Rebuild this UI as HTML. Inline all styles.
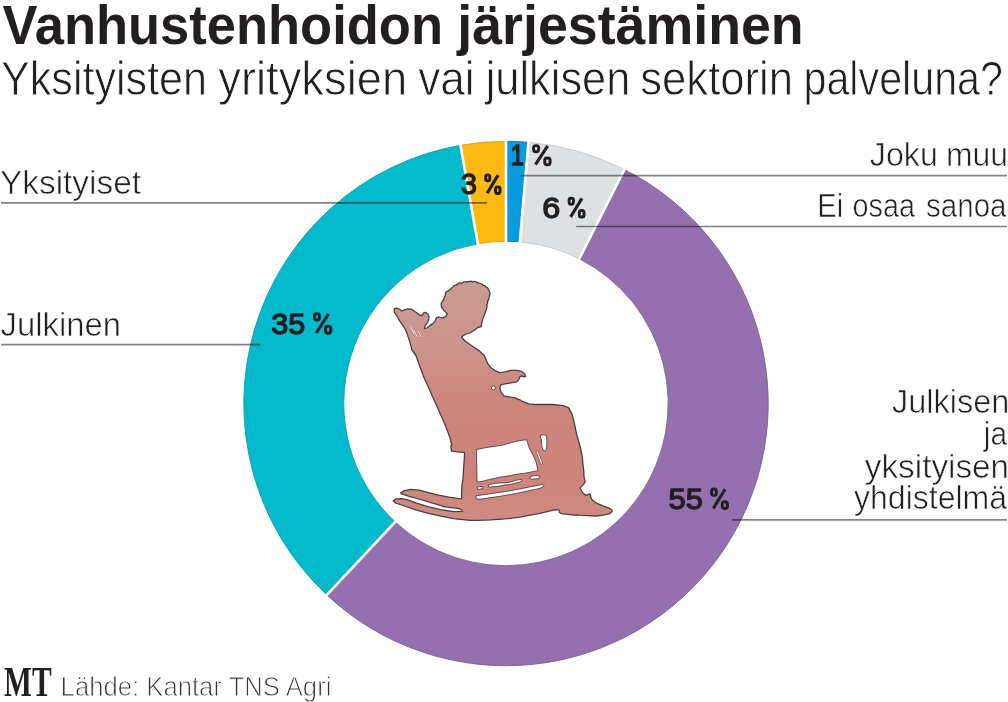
<!DOCTYPE html>
<html><head><meta charset="utf-8"><style>
html,body{margin:0;padding:0;background:#fff;}
body{width:1008px;height:702px;overflow:hidden;position:relative;}
svg{position:absolute;left:0;top:0;}
text{font-family:"Liberation Sans",sans-serif;}
.b{font-weight:bold;}
.d{font-weight:normal;stroke:#231f20;stroke-width:1.3px;}
.s{font-family:"Liberation Serif",serif;font-weight:bold;}
</style></head><body>
<svg width="1008" height="702" viewBox="0 0 1008 702">
<defs>
<linearGradient id="fg" gradientUnits="userSpaceOnUse" x1="0" y1="282" x2="0" y2="520">
<stop offset="0" stop-color="#cc9b93"/><stop offset="0.25" stop-color="#cc958c"/><stop offset="0.5" stop-color="#cd867c"/><stop offset="0.8" stop-color="#cd837a"/><stop offset="1" stop-color="#cf8b84"/>
</linearGradient>
</defs>
<g><path d="M506.00 141.30A262.2 262.2 0 0 1 528.40 142.26L519.85 241.89A162.2 162.2 0 0 0 506.00 241.30Z" fill="#069ade" stroke="#0a7fb5" stroke-width="0.9"/><path d="M528.40 142.26A262.2 262.2 0 0 1 624.42 169.57L579.26 258.79A162.2 162.2 0 0 0 519.85 241.89Z" fill="#dee1e3" stroke="#c4c7ca" stroke-width="0.9"/><path d="M624.42 169.57A262.2 262.2 0 1 1 326.85 594.95L395.17 521.93A162.2 162.2 0 1 0 579.26 258.79Z" fill="#9570b0" stroke="#7a5b90" stroke-width="0.9"/><path d="M326.85 594.95A262.2 262.2 0 0 1 460.47 145.28L477.83 243.76A162.2 162.2 0 0 0 395.17 521.93Z" fill="#02bacc" stroke="#0aa0b0" stroke-width="0.9"/><path d="M460.47 145.28A262.2 262.2 0 0 1 506.00 141.30L506.00 241.30A162.2 162.2 0 0 0 477.83 243.76Z" fill="#fcba13" stroke="#d9a012" stroke-width="0.9"/></g>
<g stroke="#fff" stroke-width="2.6"><line x1="506.00" y1="244.30" x2="506.00" y2="138.30"/><line x1="519.60" y1="244.88" x2="528.65" y2="139.27"/><line x1="577.90" y1="261.46" x2="625.78" y2="166.89"/><line x1="397.22" y1="519.74" x2="324.80" y2="597.14"/><line x1="478.36" y1="246.72" x2="459.95" y2="142.33"/></g>
<path fill="url(#fg)" stroke="#4a4040" stroke-width="1.3" stroke-linejoin="round" d="
M394.1 308.8 L396.2 308.2 L398.9 308.8 L401.6 310.9 L404.4 309.9 L407.8 308.8 L411.9 309.5 L416.0 312.3 L419.4 315.0 L422.1 315.7 L423.5 312.9 L425.5 312.3 L427.9 314.0 L429.0 317.0 L428.6 320.5 L426.9 323.2 L424.9 325.9 L424.5 328.7 L426.9 328.0 L429.6 325.9 L432.4 323.9 L435.1 321.1 L436.5 317.7 L439.2 317.0 L442.4 318.2 L446.0 316.4 L447.3 313.8 L445.1 311.6 L443.6 310.2 L442.9 308.9 L441.5 307.0 L441.5 305.4 Q440.52 303.47 442.0 301.9 Q442.15 300.83 443.2 300.6 Q443.21 299.55 444.2 299.2 Q443.63 297.00 445.5 295.7 Q444.92 294.76 445.6 293.9 Q445.37 292.72 446.4 292.1 Q447.04 290.98 448.3 291.2 Q448.44 290.13 449.5 289.9 Q450.00 288.81 451.2 288.9 Q451.34 287.61 452.6 287.3 Q453.40 285.14 455.7 285.1 Q456.37 284.26 457.4 284.6 Q457.70 283.12 459.2 282.9 Q460.28 282.52 461.0 283.4 Q461.68 282.56 462.7 282.9 Q463.73 281.50 465.4 282.0 Q466.56 281.41 467.5 282.3 Q468.37 281.09 469.8 281.5 Q471.36 280.86 472.5 282.1 Q473.66 280.99 475.1 281.7 Q476.44 281.59 477.0 282.8 Q477.98 282.49 478.6 283.3 Q480.01 282.76 481.0 283.9 Q482.61 283.96 483.1 285.5 Q485.06 285.10 486.1 286.8 Q488.19 287.34 488.4 289.5 Q489.56 290.10 489.4 291.4 Q490.28 292.34 489.7 293.5 Q490.30 294.57 489.5 295.5 Q489.81 296.69 488.8 297.4 Q489.37 299.64 487.5 301.0 Q488.28 303.06 486.6 304.5 Q487.52 305.50 486.9 306.7 L486.6 308.9 L485.3 312.5 L483.9 316.0 L482.6 319.5 L481.7 323.1 L481.3 326.6 L477.8 327.5 L475.1 329.7 L473.0 331.0 L470.0 333.0 L465.0 334.5 L461.5 337.0 L465.0 341.0 L470.0 344.5 L475.0 348.0 L480.0 351.4 L483.9 354.9 L485.9 358.9 L487.9 363.9 L490.9 367.4 L494.9 370.4 L499.9 372.9 L504.9 371.9 L510.9 370.4 L516.8 370.4 L521.8 371.4 L524.8 373.9 L525.8 376.4 L523.8 376.9 L521.8 375.9 L519.8 376.9 L518.8 379.9 L516.8 381.9 L510.9 382.9 L504.9 383.9 L500.9 384.9 L499.9 387.9 L500.9 391.8 L503.9 395.8 L508.9 396.8 L514.9 397.8 L519.8 399.8 L523.1 401.7 L528.8 403.9 L535.6 404.5 L552.7 404.5 L563.0 405.7 L568.7 407.9 L572.1 414.2 L574.4 423.3 L576.7 434.7 L580.1 446.1 L582.4 457.5 L582.8 463.0 L583.7 470.0 L584.0 476.3 L585.2 481.9 L582.9 485.1 L580.1 487.9 L581.3 490.6 L583.7 493.8 L586.0 495.4 L587.6 494.6 L590.0 493.8 L590.8 497.0 L592.4 500.2 L597.1 503.3 L603.5 506.1 L609.0 508.1 L611.8 509.7 L612.2 511.3 L609.8 513.7 L603.5 515.2 L595.6 516.0 L587.6 515.6 L579.7 515.2 L576.5 514.8 L574.9 515.2 L567.8 514.4 L561.4 513.7 L559.4 512.5 L559.0 510.1 L555.9 509.7 L547.9 511.3 L540.0 513.3 L531.3 514.8 L520.0 517.1 L505.0 518.9 L491.1 519.9 L477.2 520.3 L470.0 520.3 L465.3 519.9 L453.1 518.6 L440.9 516.2 L428.7 513.4 L416.5 510.1 L404.3 506.0 L395.3 502.8 L393.3 500.7 L396.1 498.9 L401.8 498.7 L408.3 500.1 L416.5 503.1 L428.7 506.8 L440.9 509.7 L453.1 511.6 L462.2 511.4 L462.0 510.4 L459.6 508.6 L445.0 506.9 L432.8 503.2 L420.5 499.5 L409.2 496.3 L401.8 493.9 L400.6 493.0 L404.3 490.6 L410.8 489.4 L418.9 490.2 L428.7 492.6 L438.4 495.1 L449.0 497.1 L457.2 498.3 L461.6 498.7 L461.6 492.2 L462.0 484.9 L462.9 480.0 L463.4 472.0 L464.0 463.0 L464.5 455.0 L464.6 452.6 L451.5 451.1 L450.8 445.8 L451.8 445.0 L450.1 438.1 L445.0 424.4 L438.1 409.1 L431.3 393.7 L427.9 386.0 L424.4 378.4 L420.2 367.4 L415.9 355.5 L411.9 350.0 L410.5 344.4 L408.8 338.9 L407.1 333.4 L405.0 328.7 L402.3 324.6 L398.9 319.8 L396.8 315.7 L394.4 312.3 Z"/>
<g fill="#fff" stroke="#4f4342" stroke-width="0.9" stroke-linejoin="round">
<path d="M476.5 449.5 L486 447.6 L500 445.5 L505 444.5 L511.6 442.5 L518.1 440.9 L524.7 439.9 L527 439.9 L527.6 442.5 L528.6 446.4 L531.2 451.7 L533.9 456.9 L535.8 461.5 L537.1 466.1 L537.8 470.7 L531.2 472 L524.7 473.3 L518.1 474 L511.6 475.3 L505 476.6 L499.9 477.2 L489.9 479.4 L479.9 481.9 L477 481.9 Z"/>
<path d="M476 495.8 L489.9 493.8 L509.9 490.8 L529.8 486.9 L542.8 484.4 L544.2 485.9 L539.8 488.4 L519.8 492.8 L499.9 496.3 L479.9 499.3 L476 498.8 Z"/>
<path d="M488.6 484.6 L494 483.6 L499.9 482.8 L505 482.9 L509.9 482.2 L515.8 480.3 L521.8 479.2 L522.3 480.2 L519.8 482 L515.8 483.1 L509.9 484.6 L505 485 L499.9 486.1 L494 486.6 L488.9 487.2 L488.2 486 Z"/>
<path d="M477.3 486.9 L482.5 486.4 L483 488.6 L477.6 489.6 Z"/>
<path d="M530 476.3 L537 475.4 L539.8 476.2 L539 478.6 L531.5 479.3 L530 478.2 Z"/>
<path d="M540.3 435.4 L543.5 434.6 L546.6 435.6 L546.9 442 L546.6 449 L545 451.3 L543.2 450.2 L541.8 446.5 L541.5 440 L540.2 436.8 Z"/>
<path d="M493.4 387.9 m-2 0 a2 2 0 1 0 4 0 a2 2 0 1 0 -4 0"/>
</g>
<g fill="none" stroke-linecap="round">
<g stroke="#5a4543" stroke-width="2.6" opacity="0.75">
<path d="M537.3 451.9 L541.6 463.2"/>
</g>
<g stroke="#fff" stroke-width="1.2">
<path d="M537.3 451.9 L541.6 463.2"/>
</g>
</g>
<g fill="none" stroke-linecap="round">
<g stroke="#8a6a66" stroke-width="1.9" opacity="0.55">
<path d="M410.6 325.6 L413.8 333.6"/>
<path d="M413.9 330.2 L417.1 336.6"/>
<path d="M418.1 330.9 L421 336.6"/>
</g>
<g stroke="#f6e6e4" stroke-width="1.0">
<path d="M410.6 325.6 L413.8 333.6"/>
<path d="M413.9 330.2 L417.1 336.6"/>
<path d="M418.1 330.9 L421 336.6"/>
</g>
</g>

<g stroke="#858585" stroke-width="1.7" style="mix-blend-mode:multiply">
<line x1="1" y1="202.9" x2="487" y2="202.9"/>
<line x1="1" y1="344.6" x2="260.3" y2="344.6"/>
<line x1="520.4" y1="175.7" x2="1007" y2="175.7"/>
<line x1="576.3" y1="226.5" x2="1007" y2="226.5"/>
<line x1="732" y1="519.8" x2="1007" y2="519.8"/>
</g>
<g fill="#231f20">
<text class=b x="2.60" y="44" font-size="55" textLength="440.40" lengthAdjust="spacingAndGlyphs">Vanhustenhoidon</text>
<text class=b x="457.30" y="44" font-size="55" textLength="346.40" lengthAdjust="spacingAndGlyphs">järjestäminen</text>
<text x="1.00" y="95.0" font-size="47.5" textLength="206.10" lengthAdjust="spacingAndGlyphs" stroke="#fff" stroke-width="0.8">Yksityisten</text>
<text x="218.30" y="95.0" font-size="47.5" textLength="188.80" lengthAdjust="spacingAndGlyphs" stroke="#fff" stroke-width="0.8">yrityksien</text>
<text x="418.20" y="95.0" font-size="47.5" textLength="56.40" lengthAdjust="spacingAndGlyphs" stroke="#fff" stroke-width="0.8">vai</text>
<text x="485.70" y="95.0" font-size="47.5" textLength="144.60" lengthAdjust="spacingAndGlyphs" stroke="#fff" stroke-width="0.8">julkisen</text>
<text x="640.20" y="95.0" font-size="47.5" textLength="152.90" lengthAdjust="spacingAndGlyphs" stroke="#fff" stroke-width="0.8">sektorin</text>
<text x="803.50" y="95.0" font-size="47.5" textLength="199.50" lengthAdjust="spacingAndGlyphs" stroke="#fff" stroke-width="0.8">palveluna?</text>
<text x="869.80" y="165.6" font-size="33" textLength="68.00" lengthAdjust="spacingAndGlyphs" stroke="#fff" stroke-width="0.6">Joku</text>
<text x="946.00" y="165.6" font-size="33" textLength="62.10" lengthAdjust="spacingAndGlyphs" stroke="#fff" stroke-width="0.6">muu</text>
<text x="817.30" y="216.6" font-size="33" textLength="25.90" lengthAdjust="spacingAndGlyphs" stroke="#fff" stroke-width="0.6">Ei</text>
<text x="852.50" y="216.6" font-size="33" textLength="62.50" lengthAdjust="spacingAndGlyphs" stroke="#fff" stroke-width="0.6">osaa</text>
<text x="926.10" y="216.6" font-size="33" textLength="80.40" lengthAdjust="spacingAndGlyphs" stroke="#fff" stroke-width="0.6">sanoa</text>
<text x="0.00" y="193.5" font-size="33" textLength="141.00" lengthAdjust="spacingAndGlyphs" stroke="#fff" stroke-width="0.6">Yksityiset</text>
<text x="0.60" y="336.2" font-size="33" textLength="120.40" lengthAdjust="spacingAndGlyphs" stroke="#fff" stroke-width="0.6">Julkinen</text>
<text x="892.00" y="412.5" font-size="33" textLength="117.40" lengthAdjust="spacingAndGlyphs" stroke="#fff" stroke-width="0.6">Julkisen</text>
<text x="983.80" y="445.1" font-size="33" textLength="23.30" lengthAdjust="spacingAndGlyphs" stroke="#fff" stroke-width="0.6">ja</text>
<text x="864.80" y="477.9" font-size="33" textLength="144.30" lengthAdjust="spacingAndGlyphs" stroke="#fff" stroke-width="0.6">yksityisen</text>
<text x="854.00" y="508.8" font-size="33" textLength="153.10" lengthAdjust="spacingAndGlyphs" stroke="#fff" stroke-width="0.6">yhdistelmä</text>
<text class=s x="4.00" y="695.7" font-size="42" textLength="47.60" lengthAdjust="spacingAndGlyphs">MT</text>
<text x="60.60" y="695.7" font-size="28.5" textLength="270.80" lengthAdjust="spacingAndGlyphs" fill="#333" stroke="#fff" stroke-width="0.9">Lähde: Kantar TNS Agri</text>
<text class=d x="510.60" y="165.4" font-size="29.5" textLength="13.60" lengthAdjust="spacingAndGlyphs">1</text>
<text class=d x="461.00" y="194.3" font-size="29.5" textLength="16.00" lengthAdjust="spacingAndGlyphs">3</text>
<text class=d x="542.20" y="217.9" font-size="29.5" textLength="18.00" lengthAdjust="spacingAndGlyphs">6</text>
<text class=d x="271.20" y="334.1" font-size="29.5" textLength="34.00" lengthAdjust="spacingAndGlyphs">35</text>
<text class=d x="668.60" y="509.2" font-size="29.5" textLength="34.40" lengthAdjust="spacingAndGlyphs">55</text>
</g>
<g fill="none" stroke="#231f20"><rect x="533.55" y="145.65" width="5.09" height="6.14" rx="2.14" ry="2.55" stroke-width="2.9"/><rect x="544.72" y="158.05" width="5.38" height="6.70" rx="2.26" ry="2.69" stroke-width="3.0"/><line x1="535.42" y1="164.60" x2="547.70" y2="145.85" stroke-width="3.1"/></g><g fill="none" stroke="#231f20"><rect x="485.65" y="174.95" width="4.19" height="5.87" rx="1.76" ry="2.10" stroke-width="2.9"/><rect x="495.56" y="186.98" width="4.44" height="6.42" rx="1.86" ry="2.22" stroke-width="3.0"/><line x1="487.14" y1="193.30" x2="498.04" y2="175.10" stroke-width="3.1"/></g><g fill="none" stroke="#231f20"><rect x="569.05" y="198.20" width="4.44" height="6.02" rx="1.86" ry="2.22" stroke-width="2.9"/><rect x="579.30" y="210.43" width="4.70" height="6.57" rx="1.97" ry="2.35" stroke-width="3.0"/><line x1="570.64" y1="216.87" x2="581.92" y2="198.38" stroke-width="3.1"/></g><g fill="none" stroke="#231f20"><rect x="314.45" y="313.75" width="5.01" height="6.28" rx="2.11" ry="2.51" stroke-width="2.9"/><rect x="325.50" y="326.34" width="5.30" height="6.86" rx="2.23" ry="2.65" stroke-width="3.0"/><line x1="316.28" y1="333.02" x2="328.44" y2="313.98" stroke-width="3.1"/></g><g fill="none" stroke="#231f20"><rect x="711.55" y="489.05" width="4.81" height="6.32" rx="2.02" ry="2.40" stroke-width="2.9"/><rect x="722.32" y="501.70" width="5.08" height="6.90" rx="2.14" ry="2.54" stroke-width="3.0"/><line x1="713.30" y1="508.41" x2="725.14" y2="489.29" stroke-width="3.1"/></g>
</svg>
</body></html>
